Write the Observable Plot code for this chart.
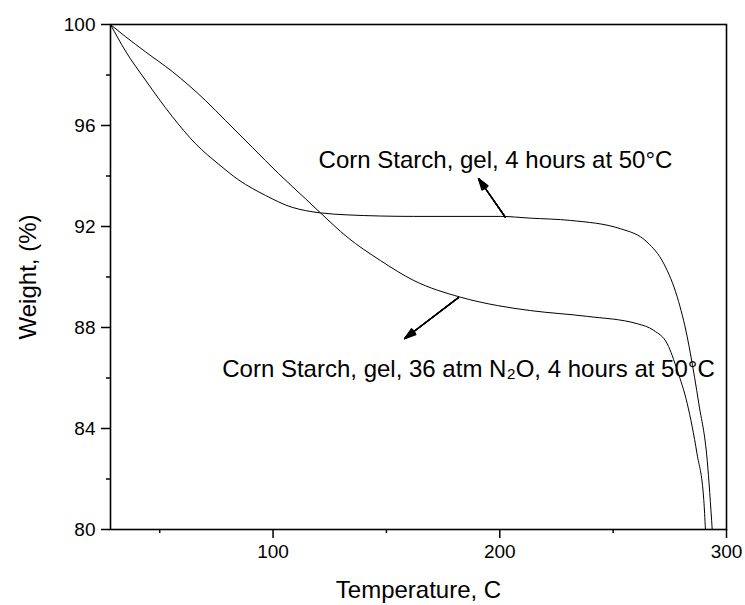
<!DOCTYPE html>
<html><head><meta charset="utf-8">
<script src="https://cdn.jsdelivr.net/npm/d3@7"></script>
<script src="https://cdn.jsdelivr.net/npm/@observablehq/plot@0.6"></script>
<style>body{margin:0;background:#fff;font-family:"Liberation Sans",Arial,sans-serif}</style>
</head><body><div id="chart"></div>
<script>
// Curve: Corn Starch, gel, 4 hours at 50°C
const tempA   = [28.3, 34.9, 43.7, 55.5, 65.8, 76.1, 84.9, 96.7, 108.4, 114.3, 120.9, 132.7, 162.0, 200.3, 213.6, 231.2, 253.3, 265.0, 272.4, 278.3, 282.7, 284.1, 287.8, 291.5, 293.7];
const weightA = [100.0, 98.95, 97.80, 96.36, 95.28, 94.46, 93.84, 93.23, 92.76, 92.63, 92.54, 92.46, 92.40, 92.40, 92.33, 92.24, 91.91, 91.38, 90.52, 89.20, 87.62, 86.96, 84.98, 82.73, 80.0];
// Curve: Corn Starch, gel, 36 atm N2O, 4 hours at 50°C
const tempB   = [28.3, 34.9, 43.7, 55.5, 70.2, 79.0, 90.8, 102.5, 114.3, 120.9, 132.7, 147.4, 162.1, 182.7, 198.9, 213.6, 238.6, 260.6, 268.0, 273.9, 278.3, 282.7, 287.0, 290.0, 290.7];
const weightB = [100.0, 99.52, 98.92, 98.14, 96.99, 96.20, 95.14, 94.09, 93.10, 92.54, 91.58, 90.65, 89.86, 89.20, 88.87, 88.67, 88.44, 88.15, 87.88, 87.35, 86.30, 84.98, 83.00, 81.15, 80.0];

const xMajorTicks = [100, 200, 300];
const xMinorTicks = [50, 150, 250];
const yMajorTicks = [80, 84, 88, 92, 96, 100];
const yMinorTicks = [82, 86, 90, 94, 98];

const annotationText = ["Corn Starch, gel, 4 hours at 50°C", "Corn Starch, gel, 36 atm N₂O, 4 hours at 50°C"];
const annotationX = [198.1, 186.2];
const annotationY = [94.61, 86.34];

// arrows: from curve point (tail) to head
const arrowX1 = [202.5, 181.8];
const arrowY1 = [92.36, 89.19];
const arrowX2 = [190.6, 158.0];
const arrowY2 = [93.90, 87.56];

const xTitle = "Temperature, C";
const yTitle = "Weight, (%)";

const lineData = [
  ...tempA.map((t, i) => ({t, w: weightA[i], s: "A"})),
  ...tempB.map((t, i) => ({t, w: weightB[i], s: "B"}))
];
const ann = annotationText.map((text, i) => ({text, x: annotationX[i], y: annotationY[i]}));
const arrows = arrowX1.map((x1, i) => ({x1, y1: arrowY1[i], x2: arrowX2[i], y2: arrowY2[i]}));

const font = "Liberation Sans, Arial, sans-serif";
const headAngles = [6, 12, 18, 24, 30, 36];

const chart = Plot.plot({
  width: 745,
  height: 605,
  marginLeft: 110,
  marginRight: 19,
  marginTop: 24,
  marginBottom: 76,
  style: {fontFamily: font, background: "#fff", color: "#000"},
  x: {domain: [28.3, 300]},
  y: {domain: [80, 100]},
  marks: [
    Plot.line(lineData, {x: "t", y: "w", z: "s", stroke: "#000", strokeWidth: 1, curve: "monotone-x", clip: true}),
    ...headAngles.map(a => Plot.arrow(arrows, {x1: "x1", y1: "y1", x2: "x2", y2: "y2", stroke: "#000", strokeWidth: 1.2, headLength: 15, headAngle: a})),
    Plot.text(ann, {x: "x", y: "y", text: "text", fontSize: 24, fill: "#000", fontFamily: font, textAnchor: "middle", lineAnchor: "middle", style: "letter-spacing:0.3px"}),
    Plot.axisX({ticks: xMajorTicks, tickSize: 9, tickPadding: 6, fontSize: 19, strokeWidth: 1.5, label: null, tickFormat: d => String(d)}),
    Plot.axisX({ticks: xMinorTicks, tickSize: 4, text: null, strokeWidth: 1.5, label: null}),
    Plot.axisY({ticks: yMajorTicks, tickSize: 9, tickPadding: 6, fontSize: 19, strokeWidth: 1.5, label: null, tickFormat: d => String(d)}),
    Plot.axisY({ticks: yMinorTicks, tickSize: 4, text: null, strokeWidth: 1.5, label: null}),
    Plot.frame({stroke: "#000", strokeWidth: 1.6}),
    Plot.text([xTitle], {frameAnchor: "bottom", dy: 61, text: d => d, fontSize: 24, fill: "#000", fontFamily: font, textAnchor: "middle", lineAnchor: "middle"}),
    Plot.text([yTitle], {frameAnchor: "left", dx: -82, rotate: -90, text: d => d, fontSize: 24, fill: "#000", fontFamily: font, textAnchor: "middle", lineAnchor: "middle"})
  ]
});
document.getElementById("chart").appendChild(chart);
</script>
</body></html>
